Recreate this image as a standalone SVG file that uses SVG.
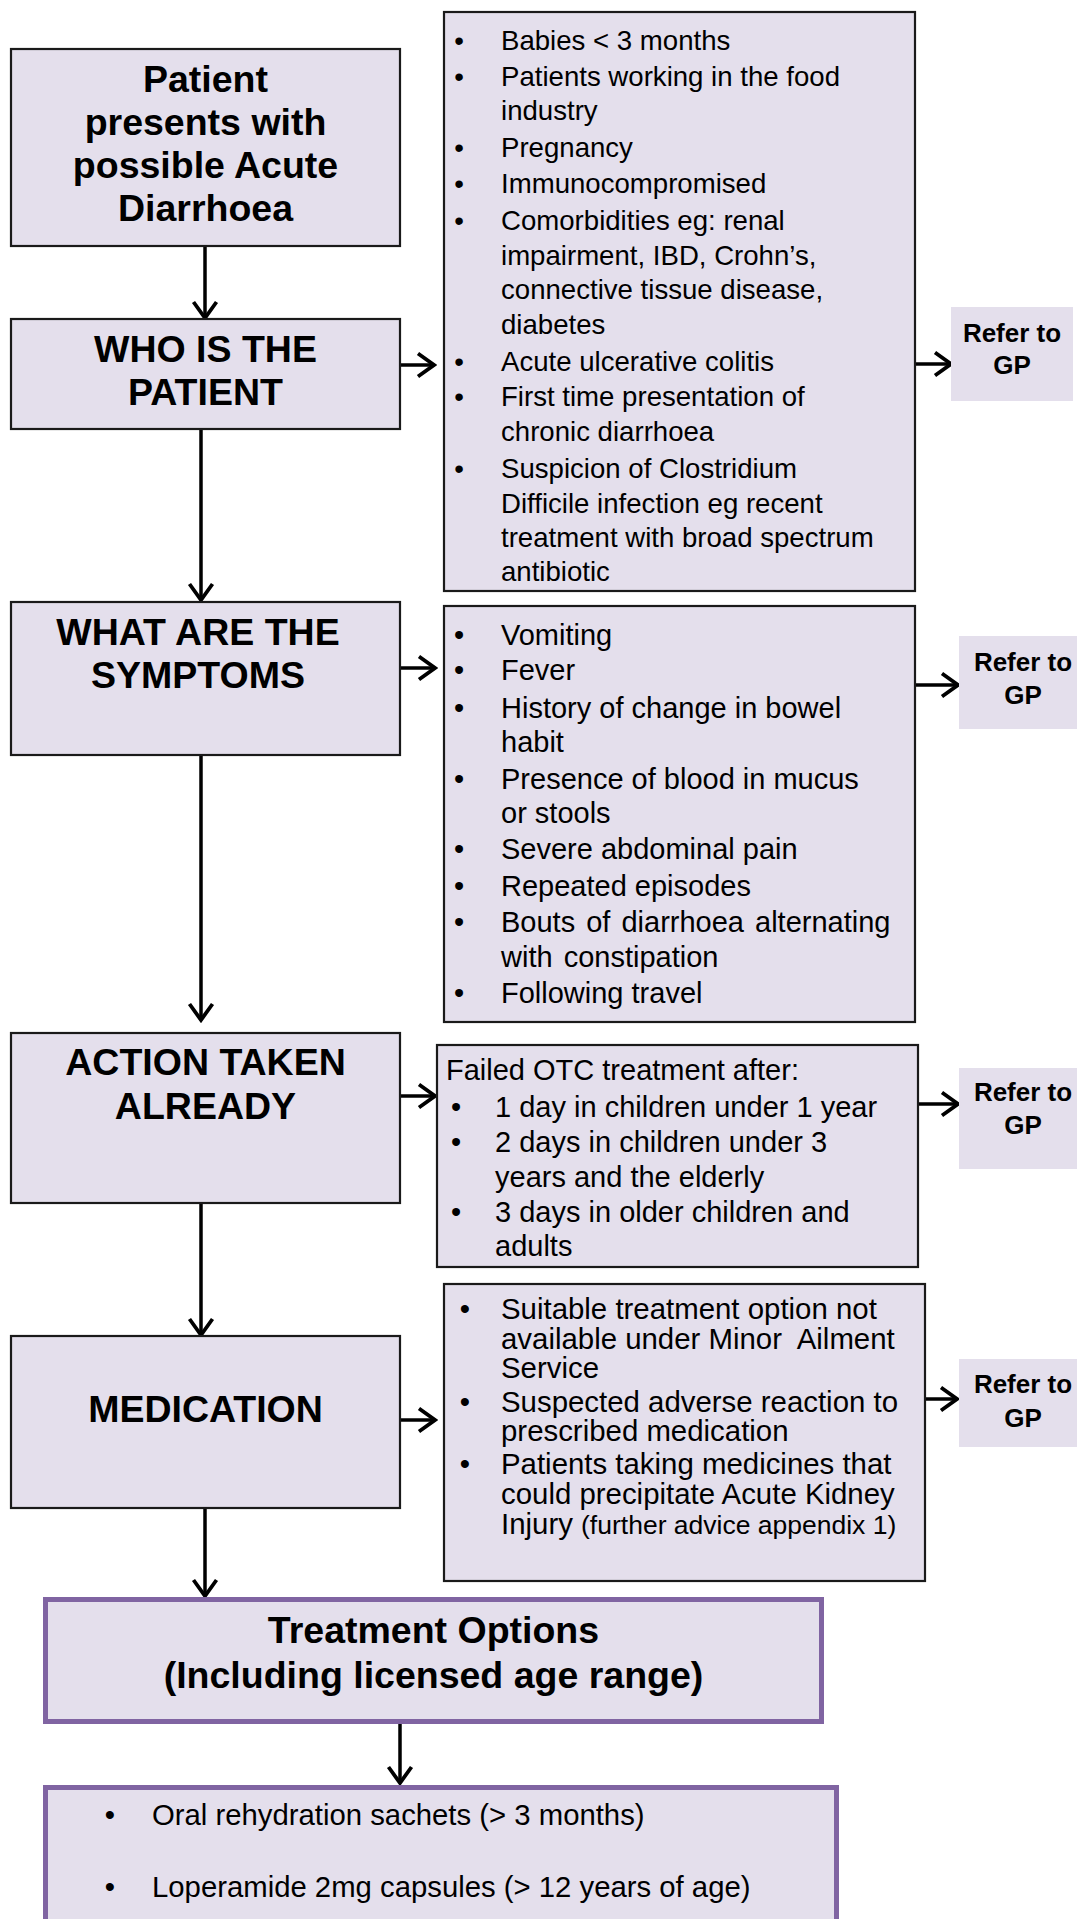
<svg xmlns="http://www.w3.org/2000/svg" width="1077" height="1919" viewBox="0 0 1077 1919">
<defs>
<style>
.box{fill:#e4dfec;stroke:#1a1a1a;stroke-width:2.2}
.ref{fill:#e4dfec;stroke:none}
.tbox{fill:#e4dfec;stroke:#8064a2;stroke-width:5}
.h{font-family:"Liberation Sans",Arial,sans-serif;font-weight:bold;font-size:37.5px;text-anchor:middle;fill:#000}
.ht{font-family:"Liberation Sans",Arial,sans-serif;font-weight:bold;font-size:37.5px;text-anchor:middle;fill:#000}
.r{font-family:"Liberation Sans",Arial,sans-serif;font-weight:bold;font-size:26px;text-anchor:middle;fill:#000}
.t{font-family:"Liberation Sans",Arial,sans-serif;font-size:29px;fill:#000}
.tm{font-family:"Liberation Sans",Arial,sans-serif;font-size:29.4px;fill:#000}
.tw{font-family:"Liberation Sans",Arial,sans-serif;font-size:27.6px;fill:#000}
.tb{font-family:"Liberation Sans",Arial,sans-serif;font-size:29.3px;fill:#000}
.b{text-anchor:middle}
.c{stroke:#000;stroke-width:3.5;fill:none}
</style>
<marker id="ah" markerUnits="userSpaceOnUse" viewBox="0 0 22 28" refX="19" refY="14" markerWidth="22" markerHeight="28" orient="auto">
<path d="M3,2.5 L19,14 L3,25.5" fill="none" stroke="#000" stroke-width="3.8"/>
</marker>
</defs>

<g id="connectors">
<line class="c" x1="205" y1="246" x2="205" y2="318" marker-end="url(#ah)"/>
<line class="c" x1="201" y1="429" x2="201" y2="600" marker-end="url(#ah)"/>
<line class="c" x1="201" y1="755" x2="201" y2="1020" marker-end="url(#ah)"/>
<line class="c" x1="201" y1="1203" x2="201" y2="1335" marker-end="url(#ah)"/>
<line class="c" x1="205" y1="1508" x2="205" y2="1596" marker-end="url(#ah)"/>
<line class="c" x1="400" y1="1724" x2="400" y2="1783" marker-end="url(#ah)"/>
<line class="c" x1="400" y1="365" x2="434" y2="365" marker-end="url(#ah)"/>
<line class="c" x1="915" y1="364" x2="951" y2="364" marker-end="url(#ah)"/>
<line class="c" x1="400" y1="668" x2="435" y2="668" marker-end="url(#ah)"/>
<line class="c" x1="915" y1="685" x2="958" y2="685" marker-end="url(#ah)"/>
<line class="c" x1="400" y1="1096" x2="435" y2="1096" marker-end="url(#ah)"/>
<line class="c" x1="918" y1="1104" x2="958" y2="1104" marker-end="url(#ah)"/>
<line class="c" x1="400" y1="1420" x2="435" y2="1420" marker-end="url(#ah)"/>
<line class="c" x1="920" y1="1399" x2="957" y2="1399" marker-end="url(#ah)"/>
</g>

<g id="start">
<rect class="box" x="11" y="49" width="389" height="197"/>
<text class="h" x="205.5" y="91.5">Patient</text>
<text class="h" x="205.5" y="135">presents with</text>
<text class="h" x="205.5" y="178">possible Acute</text>
<text class="h" x="205.5" y="221">Diarrhoea</text>
</g>

<g id="who">
<rect class="box" x="11" y="319" width="389" height="110"/>
<text class="h" x="205.5" y="362">WHO IS THE</text>
<text class="h" x="205.5" y="405">PATIENT</text>
</g>

<g id="who-list">
<rect class="box" x="444" y="12" width="471" height="579"/>
<g class="tw">
<text class="b" x="459" y="50">•</text><text x="501" y="50">Babies &lt; 3 months</text>
<text class="b" x="459" y="85.5">•</text><text x="501" y="85.5">Patients working in the food</text>
<text x="501" y="120">industry</text>
<text class="b" x="459" y="157">•</text><text x="501" y="157">Pregnancy</text>
<text class="b" x="459" y="193">•</text><text x="501" y="193">Immunocompromised</text>
<text class="b" x="459" y="230">•</text><text x="501" y="230">Comorbidities eg: renal</text>
<text x="501" y="265">impairment, IBD, Crohn’s,</text>
<text x="501" y="299">connective tissue disease,</text>
<text x="501" y="333.5">diabetes</text>
<text class="b" x="459" y="370.5">•</text><text x="501" y="370.5">Acute ulcerative colitis</text>
<text class="b" x="459" y="406">•</text><text x="501" y="406">First time presentation of</text>
<text x="501" y="441">chronic diarrhoea</text>
<text class="b" x="459" y="478">•</text><text x="501" y="478">Suspicion of Clostridium</text>
<text x="501" y="512.5">Difficile infection eg recent</text>
<text x="501" y="547">treatment with broad spectrum</text>
<text x="501" y="580.5">antibiotic</text>
</g>
</g>

<g id="refer-1">
<rect class="ref" x="951" y="307" width="122" height="94"/>
<text class="r" x="1012" y="341.5">Refer to</text>
<text class="r" x="1012" y="373.5">GP</text>
</g>

<g id="symptoms">
<rect class="box" x="11" y="602" width="389" height="153"/>
<text class="h" x="198" y="645">WHAT ARE THE</text>
<text class="h" x="198" y="688">SYMPTOMS</text>
</g>

<g id="symptoms-list">
<rect class="box" x="444" y="606" width="471" height="416"/>
<g class="t">
<text class="b" x="459" y="644.5">•</text><text x="501" y="644.5">Vomiting</text>
<text class="b" x="459" y="680">•</text><text x="501" y="680">Fever</text>
<text class="b" x="459" y="717.5">•</text><text x="501" y="717.5">History of change in bowel</text>
<text x="501" y="751.5">habit</text>
<text class="b" x="459" y="788.5">•</text><text x="501" y="788.5">Presence of blood in mucus</text>
<text x="501" y="822.5">or stools</text>
<text class="b" x="459" y="859">•</text><text x="501" y="859">Severe abdominal pain</text>
<text class="b" x="459" y="895.5">•</text><text x="501" y="895.5">Repeated episodes</text>
<text class="b" x="459" y="932">•</text><text x="501" y="932" word-spacing="3">Bouts of diarrhoea alternating</text>
<text x="501" y="967" word-spacing="3">with constipation</text>
<text class="b" x="459" y="1003">•</text><text x="501" y="1003">Following travel</text>
</g>
</g>

<g id="refer-2">
<rect class="ref" x="959" y="636" width="118" height="93"/>
<text class="r" x="1023" y="670.5">Refer to</text>
<text class="r" x="1023" y="704">GP</text>
</g>

<g id="action">
<rect class="box" x="11" y="1033" width="389" height="170"/>
<text class="h" x="205.5" y="1075">ACTION TAKEN</text>
<text class="h" x="205.5" y="1119">ALREADY</text>
</g>

<g id="action-list">
<rect class="box" x="437" y="1045" width="481" height="222"/>
<g class="t">
<text x="446" y="1080">Failed OTC treatment after:</text>
<text class="b" x="456" y="1117">•</text><text x="495" y="1117">1 day in children under 1 year</text>
<text class="b" x="456" y="1152">•</text><text x="495" y="1152">2 days in children under 3</text>
<text x="495" y="1187">years and the elderly</text>
<text class="b" x="456" y="1222">•</text><text x="495" y="1222">3 days in older children and</text>
<text x="495" y="1255.5">adults</text>
</g>
</g>

<g id="refer-3">
<rect class="ref" x="959" y="1068" width="118" height="101"/>
<text class="r" x="1023" y="1101">Refer to</text>
<text class="r" x="1023" y="1134">GP</text>
</g>

<g id="medication">
<rect class="box" x="11" y="1336" width="389" height="172"/>
<text class="h" x="205.5" y="1421.5">MEDICATION</text>
</g>

<g id="medication-list">
<rect class="box" x="444" y="1284" width="481" height="297"/>
<g class="tm">
<text class="b" x="465" y="1318.5">•</text><text x="501" y="1318.5">Suitable treatment option not</text>
<text x="501" y="1348.5" xml:space="preserve">available under Minor  Ailment</text>
<text x="501" y="1377.5">Service</text>
<text class="b" x="465" y="1411.5">•</text><text x="501" y="1411.5">Suspected adverse reaction to</text>
<text x="501" y="1441">prescribed medication</text>
<text class="b" x="465" y="1474">•</text><text x="501" y="1474">Patients taking medicines that</text>
<text x="501" y="1503.5">could precipitate Acute Kidney</text>
<text x="501" y="1533.5">Injury <tspan font-size="26.5px">(further advice appendix 1)</tspan></text>
</g>
</g>

<g id="refer-4">
<rect class="ref" x="959" y="1359" width="118" height="88"/>
<text class="r" x="1023" y="1392.5">Refer to</text>
<text class="r" x="1023" y="1426.5">GP</text>
</g>

<g id="treatment">
<rect class="tbox" x="45.5" y="1599.5" width="776" height="122"/>
<text class="ht" x="433.5" y="1643">Treatment Options</text>
<text class="ht" x="433.5" y="1688">(Including licensed age range)</text>
</g>

<g id="treatment-list">
<rect class="tbox" x="45.5" y="1787.5" width="791" height="160"/>
<g class="tb">
<text class="b" x="110" y="1825">•</text><text x="152" y="1825">Oral rehydration sachets (&gt; 3 months)</text>
<text class="b" x="110" y="1897">•</text><text x="152" y="1897">Loperamide 2mg capsules (&gt; 12 years of age)</text>
</g>
</g>
</svg>
